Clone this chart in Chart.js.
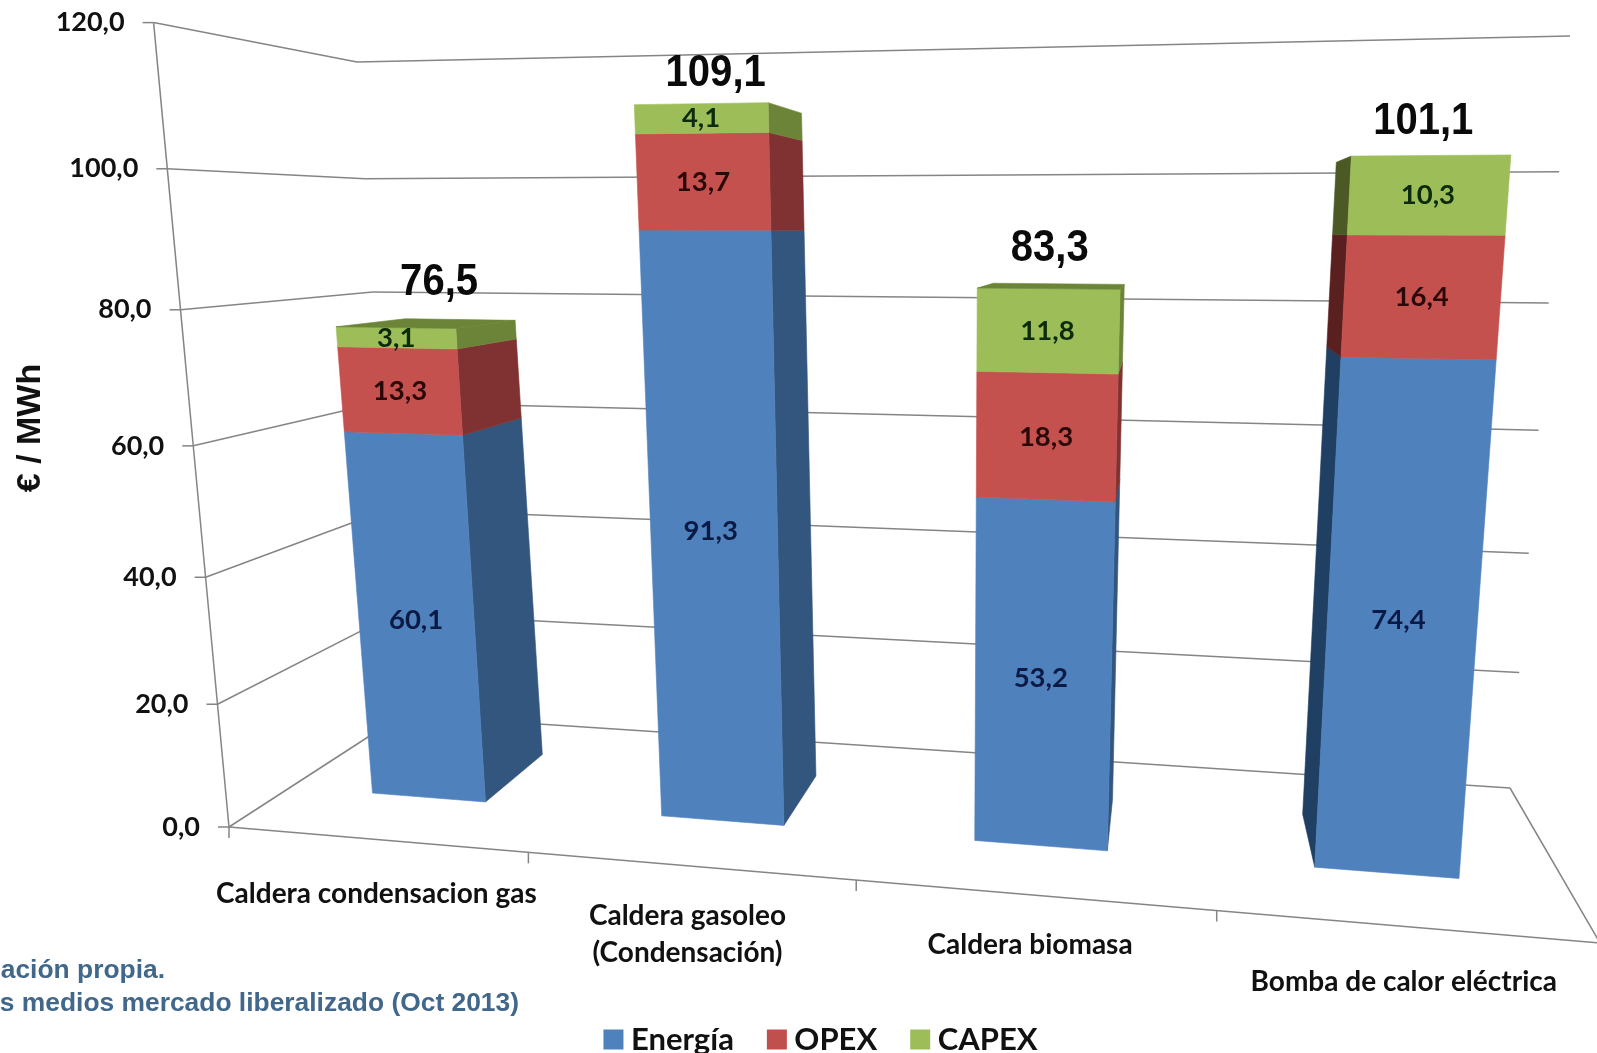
<!DOCTYPE html>
<html lang="es">
<head>
<meta charset="utf-8">
<title>Coste por MWh</title>
<script src="https://cdn.jsdelivr.net/npm/chart.js@4"></script>
<style>
  html, body { margin: 0; padding: 0; background: #fff; overflow: hidden; }
  #wrap { width: 1597px; height: 1053px; }
</style>
</head>
<body>
<div id="wrap"><canvas id="grafico"></canvas></div>
<script>
// Datos
const categorias = ['Caldera condensacion gas', ['Caldera gasoleo', '(Condensación)'], 'Caldera biomasa', 'Bomba de calor eléctrica'];
const energia = [60.1, 91.3, 53.2, 74.4];
const opex = [13.3, 13.7, 18.3, 16.4];
const capex = [3.1, 4.1, 11.8, 10.3];
const totales = [76.5, 109.1, 83.3, 101.1];

// Colores: frente, lateral derecho, lateral izquierdo
const frente = ['#4f81bd', '#c5514e', '#9dbd59'];
const ladoDer = ['#33567f', '#7f3231', '#6b8437'];
const ladoIzq = ['#1f3f63', '#5a1f1f', '#4b5a25'];
const tintaValor = ['#0b1a45', '#2a0808', '#0b2b0b'];

// Camara: planos de la escena en pixeles de la imagen (abajo-izq, abajo-der, arriba-der, arriba-izq)
const planoBarras = [[290, 786.6], [1570.6, 887.3], [1648, 0], [223, 36.3]];
const paredIzq = [[229, 827], [402, 715], [357, 62], [153.6, 22.6]];
const paredFondo = [[402, 715], [1510, 788], [1570, 36], [357, 62]];
const suelo = [[229, 827], [1615, 944.2], [1510, 788], [402, 715]];
const esquinaSuelo = [1600, 943];
const fuga = [1170, 230];
const fondoBarra = 0.083;

// Ajustes a mano de los rotulos, como en el original
const ajusteTotales = [[11, -45], [-5, -30], [-4, -40], [3, -34]];
const ajusteCategorias = [[1, 5], [-1, 0], [-2, 0], [-7, 5]];
const ajusteEnergia = [[0, 0], [-3, -6], [-2, 2], [-3, -4]];

function coma(v) { return v.toFixed(1).replace('.', ','); }

// Homografia del cuadrado unidad a un cuadrilatero
function homografia(q) {
  const [p0, p1, p2, p3] = q;
  const dx1 = p1[0] - p2[0], dx2 = p3[0] - p2[0], sx = p0[0] - p1[0] + p2[0] - p3[0];
  const dy1 = p1[1] - p2[1], dy2 = p3[1] - p2[1], sy = p0[1] - p1[1] + p2[1] - p3[1];
  const den = dx1 * dy2 - dx2 * dy1;
  const g = (sx * dy2 - dx2 * sy) / den, h = (dx1 * sy - sx * dy1) / den;
  const a = p1[0] - p0[0] + g * p1[0], b = p3[0] - p0[0] + h * p3[0];
  const d = p1[1] - p0[1] + g * p1[1], e = p3[1] - p0[1] + h * p3[1];
  return (u, v) => {
    const w = g * u + h * v + 1;
    return [(a * u + b * v + p0[0]) / w, (d * u + e * v + p0[1]) / w];
  };
}

const enBarras = homografia(planoBarras);
const enIzq = homografia(paredIzq);
const enFondo = homografia(paredFondo);
const enSuelo = homografia(suelo);

function atras(p) {
  return [p[0] + fondoBarra * (fuga[0] - p[0]), p[1] + fondoBarra * (fuga[1] - p[1])];
}

function poligono(ctx, pts, color) {
  ctx.beginPath();
  pts.forEach((p, i) => i ? ctx.lineTo(p[0], p[1]) : ctx.moveTo(p[0], p[1]));
  ctx.closePath();
  ctx.fillStyle = color;
  ctx.fill();
  ctx.strokeStyle = color;
  ctx.lineWidth = 0.6;
  ctx.stroke();
}

function linea(ctx, a, b) {
  ctx.beginPath();
  ctx.moveTo(a[0], a[1]);
  ctx.lineTo(b[0], b[1]);
  ctx.stroke();
}

const perspectiva = {
  id: 'perspectiva',
  beforeDatasetDraw() { return false; },

  beforeDatasetsDraw(chart) {
    const { ctx, scales } = chart;
    const y = scales.y, x = scales.x;
    ctx.save();
    ctx.strokeStyle = '#858585';
    ctx.lineWidth = 1.5;
    ctx.fillStyle = '#111';
    ctx.font = 'bold 27px Lato';
    ctx.textAlign = 'right';
    ctx.textBaseline = 'middle';

    // rejilla y eje de valores
    y.ticks.forEach(t => {
      const v = t.value / y.max;
      const p = enIzq(0, v), q = enIzq(1, v);
      linea(ctx, [p[0] - 11, p[1]], p);
      linea(ctx, p, q);
      linea(ctx, enFondo(0, v), enFondo(1, v));
      ctx.fillText(t.label, p[0] - 29, p[1]);
    });
    linea(ctx, enIzq(0, 0), enIzq(0, 1));

    // suelo y marcas de categoria
    linea(ctx, enSuelo(0, 0), esquinaSuelo);
    linea(ctx, esquinaSuelo, enSuelo(1, 1));
    const n = x.getLabels().length;
    for (let i = 0; i < n; i++) {
      const p = enSuelo(i / n, 0);
      linea(ctx, p, [p[0], p[1] + 11]);
    }

    // etiquetas de categoria
    ctx.textAlign = 'center';
    ctx.font = 'bold 28px Lato';
    x.getLabels().forEach((lab, i) => {
      const p = enSuelo((i + 0.5) / n, 0);
      [].concat(lab).forEach((txt, j) => {
        ctx.fillText(txt, p[0] + ajusteCategorias[i][0], p[1] + 50 + ajusteCategorias[i][1] + j * 37);
      });
    });

    // titulo del eje y nota
    ctx.fillStyle = '#111';
    ctx.font = 'bold 34px "Liberation Sans"';
    ctx.save();
    ctx.translate(31, 428);
    ctx.rotate(-Math.PI / 2);
    ctx.fillText('€ / MWh', 0, 0);
    ctx.restore();

    ctx.fillStyle = '#41678a';
    ctx.font = 'bold 26.4px "Liberation Sans"';
    ctx.textAlign = 'right';
    ctx.fillText('ación propia.', 165, 971);
    ctx.fillText('s medios mercado liberalizado (Oct 2013)', 519, 1004);
    ctx.restore();
  },

  afterDatasetsDraw(chart) {
    const { ctx, chartArea: area } = chart;
    const aUV = (px, py) => enBarras((px - area.left) / area.width, (area.bottom - py) / area.height);
    const series = chart.data.datasets.length;
    const n = chart.data.labels.length;
    ctx.save();

    for (let i = 0; i < n; i++) {
      let tope = null;
      for (let s = 0; s < series; s++) {
        const el = chart.getDatasetMeta(s).data[i];
        const izq = el.x - el.width / 2, der = el.x + el.width / 2;
        const ai = aUV(izq, el.base), ad = aUV(der, el.base);
        const bd = aUV(der, el.y), bi = aUV(izq, el.y);
        if (ad[0] < fuga[0]) poligono(ctx, [ad, bd, atras(bd), atras(ad)], ladoDer[s]);
        if (ai[0] > fuga[0]) poligono(ctx, [ai, bi, atras(bi), atras(ai)], ladoIzq[s]);
        poligono(ctx, [ai, ad, bd, bi], frente[s]);
        if (s === series - 1 && bi[1] > fuga[1]) {
          poligono(ctx, [bi, bd, atras(bd), atras(bi)], ladoDer[s]);
        }
        tope = [bi, bd];
      }
      // valores de cada tramo
      ctx.textAlign = 'center';
      ctx.textBaseline = 'middle';
      ctx.font = 'bold 27.5px Lato';
      for (let s = 0; s < series; s++) {
        const el = chart.getDatasetMeta(s).data[i];
        const c = aUV(el.x, (el.y + el.base) / 2);
        const aj = s === 0 ? ajusteEnergia[i] : [0, 0];
        ctx.fillStyle = tintaValor[s];
        ctx.fillText(coma(chart.data.datasets[s].data[i]), c[0] + aj[0], c[1] + aj[1]);
      }
      // total encima de la barra
      const m = [(tope[0][0] + tope[1][0]) / 2, (tope[0][1] + tope[1][1]) / 2];
      const a = atras(m);
      const txt = coma(totales[i]);
      ctx.fillStyle = '#0a0a0a';
      ctx.font = 'bold 45px "Liberation Sans"';
      ctx.fillText(txt, (m[0] + a[0]) / 2 + ajusteTotales[i][0], m[1] + ajusteTotales[i][1], ctx.measureText(txt).width * 0.89);
    }
    ctx.restore();
  }
};

new Chart(document.getElementById('grafico'), {
  type: 'bar',
  data: {
    labels: categorias,
    datasets: [
      { label: 'Energía', data: energia, backgroundColor: frente[0] },
      { label: 'OPEX', data: opex, backgroundColor: '#c0504d' },
      { label: 'CAPEX', data: capex, backgroundColor: frente[2] }
    ]
  },
  plugins: [perspectiva],
  options: {
    responsive: true,
    maintainAspectRatio: false,
    animation: false,
    devicePixelRatio: 1,
    layout: { padding: { left: 52, bottom: -12 } },
    datasets: { bar: { barPercentage: 0.4, categoryPercentage: 1 } },
    scales: {
      x: { stacked: true, display: false },
      y: {
        stacked: true, display: false, min: 0, max: 120,
        ticks: { stepSize: 20, callback: v => coma(v) }
      }
    },
    plugins: {
      tooltip: { enabled: false },
      legend: {
        position: 'bottom',
        labels: {
          usePointStyle: true, pointStyle: 'rect', boxWidth: 4, boxHeight: 20,
          padding: 41, color: '#111',
          font: { family: 'Lato', size: 31, weight: 'bold' }
        }
      }
    }
  }
});
</script>
</body>
</html>
